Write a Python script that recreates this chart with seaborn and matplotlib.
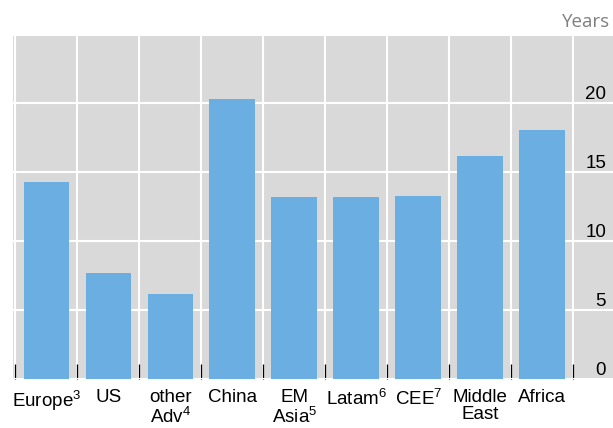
import numpy as np
import pandas as pd
import seaborn as sns
import matplotlib
matplotlib.use('Agg')
import matplotlib.pyplot as plt

# Data
regions = ['Europe$^3$', 'US', 'other\nAdv$^4$', 'China', 'EM\nAsia$^5$',
           'Latam$^6$', 'CEE$^7$', 'Middle\nEast', 'Africa']
years = [14.3, 7.7, 6.2, 20.3, 13.2, 13.2, 13.3, 16.2, 18.1]
yticks = [0, 5, 10, 15, 20]

df = pd.DataFrame({'region': regions, 'years': years})

sns.set_style('white')
plt.rcParams['font.family'] = ['Liberation Sans', 'DejaVu Sans']
plt.rcParams['mathtext.fontset'] = 'custom'
plt.rcParams['mathtext.rm'] = 'Liberation Sans'
plt.rcParams['mathtext.default'] = 'regular'

fig = plt.figure(figsize=(6.13, 4.28), dpi=100)
ax = fig.add_axes([13 / 613, 1 - 379 / 428, 1 - 13 / 613, (379 - 36) / 428])
ax.set_facecolor('#d9d9d9')

sns.barplot(data=df, x='region', y='years', color='#6aaee2', saturation=1,
            width=0.74, linewidth=0, ax=ax, zorder=3)

ax.set_xlim(-0.54, 9.14)
ax.set_ylim(0, 24.9)
ax.set_xlabel('')
ax.set_ylabel('')
for s in ax.spines.values():
    s.set_visible(False)

# x: labels at centres, ticks + white lines at boundaries
ax.set_xticks(range(len(regions)))
ax.set_xticklabels(regions, fontsize=13.5, linespacing=1.05, color='black')
ax.set_xticks(np.arange(-0.5, len(regions)), minor=True)
ax.tick_params(axis='x', which='major', bottom=True, length=0, pad=7)
ax.tick_params(axis='x', which='minor', bottom=True, direction='in',
               length=11, width=0.9, color='black')
ax.grid(axis='x', which='minor', color='white', lw=1.5, zorder=1)

# y: labels inside on the right, sitting above the grid lines
ax.yaxis.tick_right()
ax.set_yticks(yticks)
ax.set_yticklabels([str(v) for v in yticks], fontsize=13.5, color='black')
ax.tick_params(axis='y', length=0, pad=-5)
for lab in ax.get_yticklabels():
    lab.set_ha('right')
    lab.set_va('bottom')
ax.grid(axis='y', which='major', color='white', lw=1.5, zorder=1)

fig.text(0.995, 1 - 22 / 428, 'Years', ha='right', va='center',
         fontsize=13.5, color='#7f7f7f', family=['Open Sans', 'DejaVu Sans'])

fig.savefig('out.png', dpi=100)
